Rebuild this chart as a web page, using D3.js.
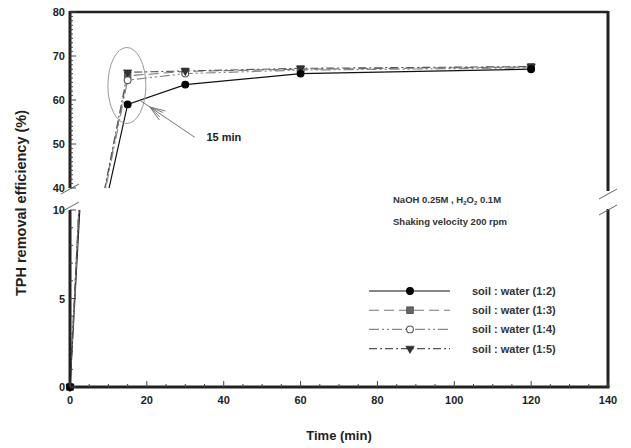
<!DOCTYPE html>
<html><head><meta charset="utf-8">
<script src="https://cdn.jsdelivr.net/npm/d3@7"></script>
<style>body{margin:0;background:#fff}svg{display:block;font-family:"Liberation Sans",Arial,sans-serif;font-weight:bold}</style>
</head><body><svg id="c" width="631" height="448"></svg>
<script>
const times = [0, 15, 30, 60, 120];
const s12 = [0, 59, 63.5, 66, 67];
const s13 = [0, 65.5, 66.5, 67, 67.5];
const s14 = [0, 64.5, 66, 66.8, 67.3];
const s15 = [0, 66.3, 66.6, 67.2, 67.6];
const seriesNames = ["soil : water (1:2)", "soil : water (1:3)", "soil : water (1:4)", "soil : water (1:5)"];
const xTicks = [0, 20, 40, 60, 80, 100, 120, 140];
const yUpTicks = [40, 50, 60, 70, 80];
const yLoTicks = [0, 5, 10];

const svg = d3.select("#c");
const L = 70, R = 608, T = 12, UB = 188, LT = 210, B = 387;
const x = d3.scaleLinear([0, 140], [L, R]);
const yUp = d3.scaleLinear([40, 80], [UB, T]);
const yLo = d3.scaleLinear([0, 10], [B, LT]);

const defs = svg.append("defs");
defs.append("clipPath").attr("id", "cu").append("rect").attr("x", L).attr("y", T).attr("width", R - L).attr("height", UB - T);
defs.append("clipPath").attr("id", "cl").append("rect").attr("x", L).attr("y", LT).attr("width", R - L).attr("height", B - LT);

const styles = [
  {stroke: "#111", dash: null, w: 1.2, sym: "circle", fill: "#000", sc: "#000"},
  {stroke: "#777", dash: "10,5", w: 1.1, sym: "square", fill: "#666", sc: "#444"},
  {stroke: "#888", dash: "10,3,2,3,2,3", w: 1.2, sym: "circle", fill: "#fff", sc: "#555"},
  {stroke: "#555", dash: "8,3,2,3", w: 1.1, sym: "triangle", fill: "#333", sc: "#222"}
];
const data = [s12, s13, s14, s15];

// lines in each panel (clipped)
[[yUp, "cu"], [yLo, "cl"]].forEach(([ys, cid]) => {
  const g = svg.append("g").attr("clip-path", `url(#${cid})`);
  data.forEach((vals, i) => {
    const st = styles[i];
    const line = d3.line().x((d, j) => x(times[j])).y(d => ys(d));
    g.append("path").attr("d", line(vals)).attr("fill", "none")
      .attr("stroke", st.stroke).attr("stroke-width", st.w)
      .attr("stroke-dasharray", st.dash);
  });
});

function symbol(g, st, cx, cy) {
  if (st.sym === "circle") {
    g.append("circle").attr("cx", cx).attr("cy", cy).attr("r", 3.4)
      .attr("fill", st.fill).attr("stroke", st.sc).attr("stroke-width", 1.1);
  } else if (st.sym === "square") {
    g.append("rect").attr("x", cx - 3.3).attr("y", cy - 3.3).attr("width", 6.6).attr("height", 6.6)
      .attr("fill", st.fill).attr("stroke", st.sc).attr("stroke-width", 0.8);
  } else {
    g.append("path").attr("d", d3.symbol(d3.symbolTriangle, 30)())
      .attr("transform", `translate(${cx},${cy}) rotate(180)`)
      .attr("fill", st.fill).attr("stroke", st.sc).attr("stroke-width", 0.6);
  }
}
const ms = svg.append("g");
[1, 2, 3, 0].forEach(i => {
  data[i].forEach((v, j) => {
    const cy = v >= 40 ? yUp(v) : yLo(v);
    symbol(ms, styles[i], x(times[j]), cy);
  });
});

// axes / frame
const frame = svg.append("g").attr("stroke", "#222").attr("fill", "none");
frame.append("line").attr("x1", L).attr("x2", R).attr("y1", T).attr("y2", T).attr("stroke-width", 2.5);
frame.append("line").attr("x1", L).attr("x2", R + 1.5).attr("y1", B).attr("y2", B).attr("stroke-width", 3);
frame.append("line").attr("x1", L).attr("x2", L).attr("y1", T - 1).attr("y2", UB).attr("stroke-width", 3);
frame.append("line").attr("x1", L).attr("x2", L).attr("y1", LT).attr("y2", B).attr("stroke-width", 3);
frame.append("line").attr("x1", R).attr("x2", R).attr("y1", T - 1).attr("y2", UB + 3).attr("stroke-width", 3);
frame.append("line").attr("x1", R).attr("x2", R).attr("y1", LT - 1).attr("y2", B).attr("stroke-width", 3);
// break marks
[[L, UB + 1], [L, LT - 3], [R, UB + 6], [R, LT]].forEach(([bx, by]) => {
  frame.append("line").attr("x1", bx - 9).attr("y1", by + 5).attr("x2", bx + 9).attr("y2", by - 5)
    .attr("stroke", "#666").attr("stroke-width", 1);
});

// ticks (inward)
const tk = svg.append("g").attr("stroke", "#444").attr("stroke-width", 1);
d3.range(0, 141, 5).forEach(v => {
  const len = v % 20 === 0 ? 6 : 3;
  tk.append("line").attr("x1", x(v)).attr("x2", x(v)).attr("y1", B).attr("y2", B - len);
});
d3.range(40, 81, 1).forEach(v => {
  const len = v % 10 === 0 ? 6 : 3;
  tk.append("line").attr("x1", L).attr("x2", L + len).attr("y1", yUp(v)).attr("y2", yUp(v));
});
d3.range(0, 11, 1).forEach(v => {
  const len = v % 5 === 0 ? 6 : 3;
  tk.append("line").attr("x1", L).attr("x2", L + len).attr("y1", yLo(v)).attr("y2", yLo(v));
});

const lab = svg.append("g").attr("fill", "#222").attr("font-size", 11);
xTicks.forEach(v => lab.append("text").attr("x", x(v)).attr("y", B + 17).attr("text-anchor", "middle").text(v));
yUpTicks.forEach(v => lab.append("text").attr("x", L - 5).attr("y", yUp(v) + 4).attr("text-anchor", "end").text(v));
yLoTicks.forEach(v => lab.append("text").attr("x", L - 5).attr("y", yLo(v) + 4).attr("text-anchor", "end").text(v));

svg.append("text").attr("x", (L + R) / 2).attr("y", 440).attr("text-anchor", "middle")
  .attr("font-size", 13).attr("fill", "#222").text("Time (min)");
svg.append("text").attr("transform", `translate(26,203) rotate(-90)`)
  .attr("text-anchor", "middle").attr("font-size", 14.5).attr("fill", "#222").text("TPH removal efficiency (%)");

// annotation ellipse and arrow
svg.append("ellipse").attr("cx", x(14.8)).attr("cy", yUp(63.3)).attr("rx", 19).attr("ry", 38)
  .attr("fill", "none").attr("stroke", "#999").attr("stroke-width", 1);
const ax1 = x(32.5), ay1 = yUp(51.5), ax2 = x(20.8), ay2 = yUp(58.4);
const ang = Math.atan2(ay2 - ay1, ax2 - ax1);
const ar = svg.append("g").attr("stroke", "#777").attr("fill", "none").attr("stroke-width", 1);
ar.append("line").attr("x1", ax1).attr("y1", ay1).attr("x2", ax2 + 12 * Math.cos(ang)).attr("y2", ay2 + 12 * Math.sin(ang));
const wing = (a, l) => [ax2 - l * Math.cos(ang + a), ay2 - l * Math.sin(ang + a)];
[[0.35, 16], [-0.35, 16], [0.2, 14], [-0.2, 14]].forEach(([a, l]) => {
  const [wx, wy] = wing(a, l);
  ar.append("line").attr("x1", ax2).attr("y1", ay2).attr("x2", wx).attr("y2", wy);
});
svg.append("text").attr("x", x(35.5)).attr("y", yUp(50.6)).attr("font-size", 11).attr("fill", "#222").text("15 min");

// condition text
const ct = svg.append("g").attr("font-size", 9.5).attr("fill", "#333");
const t1 = ct.append("text").attr("x", 393).attr("y", 203);
t1.append("tspan").text("NaOH 0.25M , H");
t1.append("tspan").attr("font-size", 6).attr("dy", 2).text("2");
t1.append("tspan").attr("dy", -2).text("O");
t1.append("tspan").attr("font-size", 6).attr("dy", 2).text("2");
t1.append("tspan").attr("dy", -2).text(" 0.1M");
ct.append("text").attr("x", 393).attr("y", 225).text("Shaking velocity 200 rpm");

// legend
const lg = svg.append("g");
seriesNames.forEach((n, i) => {
  const ly = 291 + i * 19.2;
  const st = styles[i];
  lg.append("line").attr("x1", 369).attr("x2", 450).attr("y1", ly).attr("y2", ly)
    .attr("stroke", st.stroke).attr("stroke-width", st.w).attr("stroke-dasharray", st.dash);
  symbol(lg, st, 410, ly);
  lg.append("text").attr("x", 472).attr("y", ly + 4).attr("font-size", 11).attr("fill", "#333").text(n);
});
</script></body></html>
